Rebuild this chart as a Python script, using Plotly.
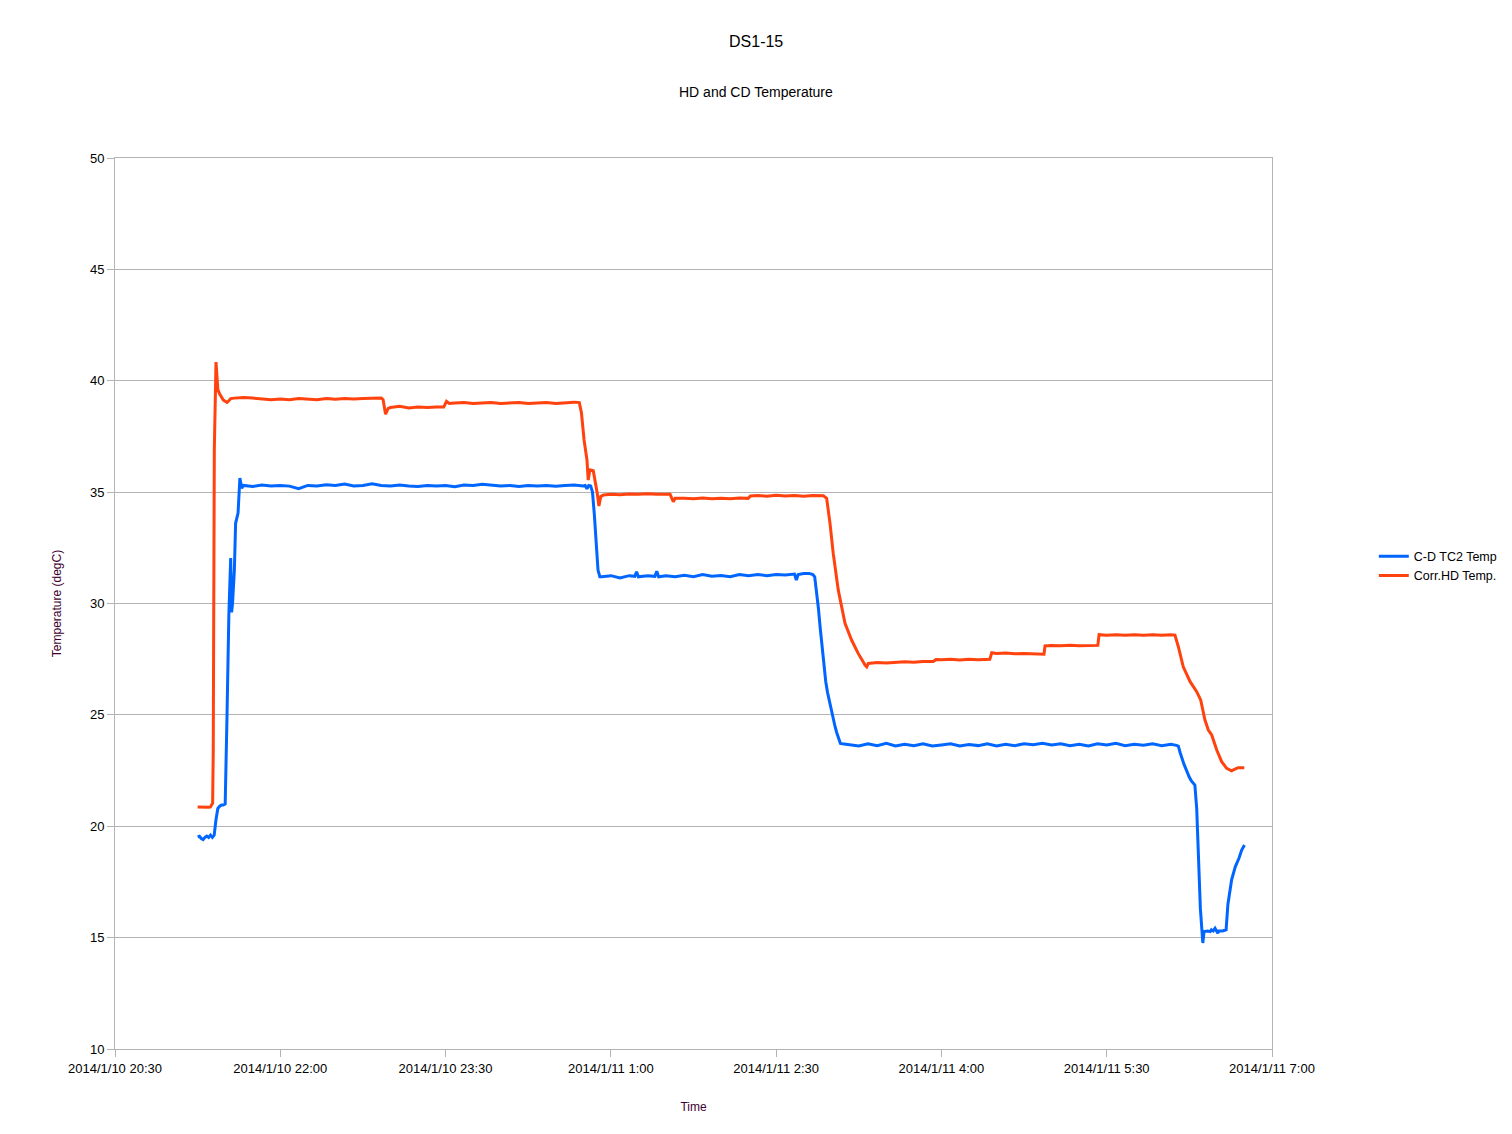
import plotly.graph_objects as go
import pandas as pd

# ---- data ----
cd_times = [
    "21:15", "21:16", "21:17", "21:18", "21:19", "21:20", "21:21", "21:22", "21:23", "21:24",
    "21:25", "21:26", "21:27", "21:28", "21:29", "21:30", "21:31", "21:32", "21:33", "21:33:30",
    "21:34", "21:35", "21:35:40", "21:37", "21:38", "21:39",
    "21:40", "21:45", "21:50", "21:55", "22:00", "22:05", "22:10", "22:15", "22:20", "22:25",
    "22:30", "22:35", "22:40", "22:45", "22:50", "22:55", "23:00", "23:05", "23:10", "23:15",
    "23:20", "23:25", "23:30", "23:35", "23:40", "23:45", "23:50", "23:55", "00:00", "00:05",
    "00:10", "00:15", "00:20", "00:25", "00:30", "00:35", "00:40", "00:45", "00:46", "00:47",
    "00:48", "00:49", "00:50", "00:51", "00:52", "00:53", "00:54",
    "00:55", "01:00", "01:05", "01:10", "01:13", "01:14", "01:15", "01:20", "01:24", "01:25",
    "01:26", "01:30", "01:35", "01:40", "01:45", "01:50", "01:55", "02:00", "02:05", "02:10",
    "02:15", "02:20", "02:25", "02:30", "02:35", "02:40", "02:41", "02:42", "02:45", "02:48",
    "02:50", "02:51", "02:52", "02:53", "02:54", "02:55", "02:56", "02:57", "02:58", "02:59",
    "03:00", "03:01", "03:02", "03:03", "03:04", "03:05", "03:06",
    "03:10", "03:15", "03:20", "03:25", "03:30", "03:35", "03:40", "03:45", "03:50", "03:55",
    "04:00", "04:05", "04:10", "04:15", "04:20", "04:25", "04:30", "04:35", "04:40", "04:45",
    "04:50", "04:55", "05:00", "05:05", "05:10", "05:15", "05:20", "05:25", "05:30", "05:35",
    "05:40", "05:45", "05:50", "05:55", "06:00", "06:05", "06:08",
    "06:09", "06:10", "06:11", "06:12", "06:13", "06:14", "06:15", "06:16", "06:17", "06:18",
    "06:19", "06:20", "06:21", "06:22:20", "06:23", "06:25", "06:26:20", "06:27", "06:28", "06:29",
    "06:30:30", "06:31", "06:33", "06:35", "06:36", "06:38", "06:40", "06:42", "06:43:30", "06:45",
]
cd_temp = [
    19.52, 19.55, 19.45, 19.40, 19.50, 19.56, 19.50, 19.60, 19.50, 19.60,
    20.30, 20.80, 20.90, 20.95, 20.95, 21.00, 25.00, 29.50, 32.04, 29.60,
    30.00, 31.50, 33.60, 34.06, 35.63, 35.18,
    35.30, 35.25, 35.32, 35.28, 35.30, 35.27, 35.15, 35.30, 35.28, 35.33,
    35.30, 35.36, 35.28, 35.30, 35.38, 35.30, 35.27, 35.32, 35.28, 35.25,
    35.30, 35.27, 35.30, 35.24, 35.32, 35.30, 35.35, 35.30, 35.28, 35.30,
    35.25, 35.30, 35.28, 35.30, 35.26, 35.30, 35.32, 35.28, 35.30, 35.15,
    35.30, 35.28, 35.00, 34.00, 32.50, 31.50, 31.20,
    31.20, 31.25, 31.15, 31.25, 31.22, 31.42, 31.20, 31.25, 31.22, 31.45,
    31.20, 31.25, 31.20, 31.27, 31.20, 31.30, 31.22, 31.26, 31.20, 31.30,
    31.25, 31.30, 31.25, 31.30, 31.28, 31.32, 31.05, 31.30, 31.35, 31.35,
    31.30, 31.20, 30.60, 29.80, 28.90, 28.00, 27.20, 26.50, 26.00, 25.60,
    25.30, 24.90, 24.50, 24.20, 23.90, 23.72, 23.70,
    23.65, 23.60, 23.70, 23.62, 23.72, 23.60, 23.68, 23.62, 23.70, 23.60,
    23.65, 23.70, 23.60, 23.67, 23.62, 23.70, 23.60, 23.68, 23.62, 23.70,
    23.66, 23.72, 23.65, 23.70, 23.62, 23.68, 23.60, 23.70, 23.65, 23.72,
    23.62, 23.68, 23.64, 23.70, 23.62, 23.68, 23.63,
    23.60, 23.30, 23.00, 22.80, 22.60, 22.35, 22.20, 22.05, 21.95, 21.85,
    20.80, 18.40, 16.30, 14.76, 15.27, 15.30, 15.27, 15.35, 15.30, 15.42,
    15.20, 15.30, 15.30, 15.35, 16.50, 17.59, 18.18, 18.56, 18.93, 19.16,
]

hd_times = [
    "21:15", "21:17", "21:19", "21:21", "21:22", "21:23:10", "21:23:30", "21:24:05", "21:25", "21:26",
    "21:27", "21:28", "21:29", "21:30", "21:31", "21:32", "21:33", "21:35",
    "21:40", "21:45", "21:50", "21:55", "22:00", "22:05", "22:10", "22:15", "22:20", "22:25",
    "22:30", "22:35", "22:40", "22:45", "22:50", "22:55", "22:56", "22:57:20", "22:58:45", "23:00",
    "23:05", "23:10", "23:15", "23:20", "23:25", "23:29", "23:30:30", "23:32", "23:35", "23:40",
    "23:45", "23:50", "23:55", "00:00", "00:05", "00:10", "00:15", "00:20", "00:25", "00:30",
    "00:35", "00:40", "00:42:50", "00:44", "00:45:25", "00:47", "00:47:40", "00:48:35", "00:50:25", "00:51:25",
    "00:52:35", "00:53:30", "00:54:30", "00:56", "01:00", "01:05", "01:10", "01:15", "01:20", "01:25",
    "01:30", "01:32:15", "01:34", "01:35", "01:40", "01:45", "01:50", "01:55", "02:00", "02:05",
    "02:10", "02:14:45", "02:16", "02:20", "02:25", "02:30", "02:35", "02:40", "02:45", "02:50",
    "02:55:40", "02:57:30", "02:59:20", "03:01:05", "03:03:50", "03:07:30", "03:11:05", "03:14:40", "03:18:25", "03:19:20",
    "03:20:10", "03:25", "03:30", "03:35", "03:40", "03:45", "03:50", "03:55:30", "03:57", "04:00",
    "04:05", "04:10", "04:15", "04:20", "04:26:20", "04:27:25", "04:30", "04:35", "04:40", "04:45",
    "04:50", "04:55:50", "04:56:25", "05:00", "05:05", "05:10", "05:15", "05:20", "05:25:10", "05:25:50",
    "05:30", "05:35", "05:40", "05:45", "05:50", "05:55", "06:00", "06:05", "06:07:10", "06:09",
    "06:11:40", "06:15:25", "06:19", "06:21:10", "06:23:30", "06:25:20", "06:27:10", "06:29:55", "06:32:35", "06:35:20",
    "06:38", "06:39:50", "06:41:35", "06:44:55",
]
hd_temp = [
    20.86, 20.85, 20.86, 20.85, 20.87, 21.04, 23.40, 36.90, 40.84, 39.60,
    39.40, 39.25, 39.13, 39.08, 39.03, 39.10, 39.20, 39.22,
    39.25, 39.22, 39.20, 39.15, 39.18, 39.15, 39.20, 39.17, 39.15, 39.20,
    39.17, 39.20, 39.18, 39.20, 39.20, 39.22, 39.15, 38.50, 38.76, 38.80,
    38.85, 38.78, 38.82, 38.80, 38.82, 38.82, 39.08, 38.98, 39.00, 39.02,
    38.98, 39.00, 39.02, 38.98, 39.00, 39.02, 38.98, 39.00, 39.02, 38.98,
    39.02, 39.04, 39.02, 38.55, 37.34, 36.44, 35.54, 36.00, 35.96, 35.54,
    34.95, 34.38, 34.80, 34.87, 34.90, 34.88, 34.92, 34.90, 34.93, 34.90,
    34.92, 34.90, 34.57, 34.72, 34.72, 34.70, 34.74, 34.70, 34.72, 34.70,
    34.74, 34.72, 34.83, 34.85, 34.82, 34.86, 34.83, 34.85, 34.82, 34.85,
    34.84, 34.72, 33.60, 32.25, 30.60, 29.11, 28.36, 27.76, 27.24, 27.16,
    27.31, 27.35, 27.33, 27.36, 27.38, 27.36, 27.40, 27.40, 27.48, 27.47,
    27.50, 27.46, 27.50, 27.48, 27.50, 27.79, 27.76, 27.78, 27.74, 27.76,
    27.73, 27.72, 28.10, 28.12, 28.10, 28.13, 28.10, 28.12, 28.12, 28.60,
    28.58, 28.60, 28.57, 28.60, 28.58, 28.60, 28.57, 28.60, 28.58, 28.06,
    27.16, 26.49, 26.04, 25.67, 24.77, 24.32, 24.10, 23.42, 22.90, 22.60,
    22.49, 22.56, 22.63, 22.63,
]

x_tick_start = "2014-01-10 20:30"
x_range = ["2014-01-10 20:30", "2014-01-11 07:00"]
y_range = [10, 50]


def to_datetime(times):
    out = []
    for t in times:
        day = "2014-01-11" if int(t.split(":")[0]) < 12 else "2014-01-10"
        out.append(pd.Timestamp(f"{day} {t}"))
    return out


FONT = "Liberation Sans, Arial, sans-serif"
GRID = "#b3b3b3"

fig = go.Figure()
fig.add_trace(go.Scatter(x=to_datetime(cd_times), y=cd_temp, mode="lines",
                         name="C-D TC2 Temp", line=dict(color="#0066ff", width=3)))
fig.add_trace(go.Scatter(x=to_datetime(hd_times), y=hd_temp, mode="lines",
                         name="Corr.HD Temp.", line=dict(color="#ff420e", width=3)))

# the page body adds an 8px offset; the figure is sized/margined to compensate
fig.update_layout(
    width=1504, height=1126,
    margin=dict(l=107, r=240, t=150, b=85, autoexpand=False),
    paper_bgcolor="white", plot_bgcolor="white",
    font=dict(family=FONT, size=13, color="#000000"),
    annotations=[
        dict(text="DS1-15", xref="paper", yref="paper",
             x=(756 - 115) / 1157, y=(1049 - 42) / 891, xanchor="center", yanchor="middle",
             showarrow=False, font=dict(size=16, color="#000000")),
        dict(text="HD and CD Temperature", xref="paper", yref="paper",
             x=(756 - 115) / 1157, y=(1049 - 92) / 891, xanchor="center", yanchor="middle",
             showarrow=False, font=dict(size=14, color="#000000")),
    ],
    legend=dict(x=1.088, y=0.542, xanchor="left", yanchor="middle",
                font=dict(size=12.5, color="#000000"), bgcolor="rgba(0,0,0,0)",
                tracegroupgap=0, itemwidth=30),
    showlegend=True,
)

fig.update_xaxes(
    type="date", range=x_range, tick0=x_tick_start, dtick=5400000,
    tickformat="%Y/%-m/%-d %-H:%M", ticks="outside", ticklen=7, tickcolor=GRID,
    showgrid=False, showline=True, linecolor=GRID, linewidth=1, mirror=True,
    tickfont=dict(size=13, color="#000000"),
    title=dict(text="Time", font=dict(size=12, color="#400030"), standoff=28),
    zeroline=False,
)
fig.update_yaxes(
    range=y_range, dtick=5, ticks="outside", ticklen=7, tickcolor=GRID,
    showgrid=True, gridcolor=GRID, gridwidth=1, showline=True, linecolor=GRID, linewidth=1,
    mirror=True, tickfont=dict(size=13, color="#000000"),
    title=dict(text="Temperature (degC)", font=dict(size=12, color="#400030"), standoff=25),
    zeroline=False,
)

fig.write_html("out.html")
